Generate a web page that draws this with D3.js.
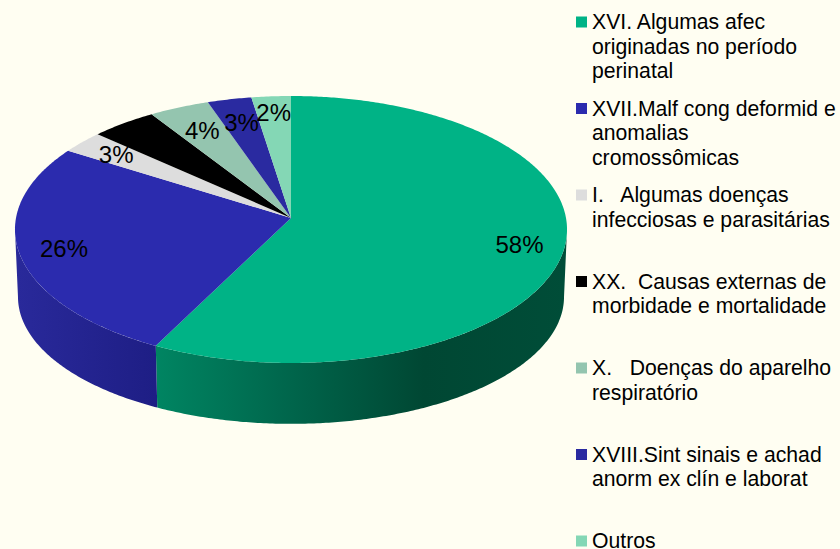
<!DOCTYPE html>
<html>
<head>
<meta charset="utf-8">
<script src="https://cdn.jsdelivr.net/npm/d3@7"></script>
<style>
  html, body { margin: 0; padding: 0; background: #fffef2; }
  svg { display: block; }
  text { font-family: "Liberation Sans", Arial, sans-serif; fill: #000; }
</style>
</head>
<body>
<svg id="chart" width="840" height="549"></svg>
<script>
// values, in percent
var categories = ["XVI", "XVII", "I", "XX", "X", "XVIII", "Outros"];
var values = [57.5, 26.4, 2.75, 4.2, 3.85, 2.8, 2.5];
var sliceLabels = ["58%", "26%", "3%", "", "4%", "3%", "2%"];
var legendLines = [
    ["XVI. Algumas afec", "originadas no período", "perinatal"],
    ["XVII.Malf cong deformid e", "anomalias", "cromossômicas"],
    ["I.   Algumas doenças", "infecciosas e parasitárias"],
    ["XX.  Causas externas de", "morbidade e mortalidade"],
    ["X.   Doenças do aparelho", "respiratório"],
    ["XVIII.Sint sinais e achad", "anorm ex clín e laborat"],
    ["Outros"]
];
var colors = ["#00b386", "#2b2bae", "#dddddd", "#000000", "#94c5af", "#2a2aa0", "#84d7b5"];
// label spot along the slice middle, as part of the radius
var labelRadius = [0.84, 0.84, 0.83, 0, 0.78, 0.79, 0.86];
// side wall shading, dark stops read along x
var sideStops = [
    { color: 0, offset: 0.25, shade: "#008562" },
    { color: 0, offset: 0.5, shade: "#00654b" },
    { color: 0, offset: 0.74, shade: "#004733" },
    { color: 0, offset: 1, shade: "#004d38" },
    { color: 1, offset: 0, shade: "#29299a" },
    { color: 1, offset: 0.25, shade: "#1e1e85" }
];

var cx = 291, k = 0.086;
var upper = { cy: 218, rx: 275, ry: 132.5 };
var lower = { cy: 286, rx: 272, ry: 126 };

// circle angle (clockwise from top) to tilted pie, apex sits above the ellipse middle
var project = function(a, r, f) {
    var u = r * Math.sin(a), v = -r * Math.cos(a);
    var w = 1 - k * v;
    return [cx + f.rx * u / w, f.cy + f.ry * v / w];
};

var rimAngles = function(a0, a1) {
    var n = Math.max(2, Math.ceil((a1 - a0) / 0.01));
    return d3.range(n + 1).map(function(i) { return a0 + (a1 - a0) * i / n; });
};

var svg = d3.select("#chart");
var line = d3.line();

var pie = d3.pie().sort(null).value(function(d) { return d; });
var arcs = pie(values);

var defs = svg.append("defs");
[0, 1].forEach(function(c) {
    var g = defs.append("linearGradient")
        .attr("id", "side" + c)
        .attr("gradientUnits", "userSpaceOnUse")
        .attr("x1", 18).attr("x2", 567).attr("y1", 0).attr("y2", 0);
    sideStops.filter(function(s) { return s.color === c; }).forEach(function(s) {
        g.append("stop").attr("offset", s.offset).attr("stop-color", s.shade);
    });
});

// side wall, runs between the two widest points of the rim
var sideFrom = Math.acos(-k), sideTo = 2 * Math.PI - sideFrom;
arcs.forEach(function(d, i) {
    var a0 = Math.max(d.startAngle, sideFrom), a1 = Math.min(d.endAngle, sideTo);
    if (a1 <= a0) return;
    var angles = rimAngles(a0, a1);
    var top = angles.map(function(a) { return project(a, 1, upper); });
    var bottom = angles.map(function(a) { return project(a, 1, lower); }).reverse();
    svg.append("path")
        .attr("d", line(top.concat(bottom)) + "Z")
        .attr("fill", "url(#side" + i + ")");
});

// top face
svg.selectAll("path.slice")
    .data(arcs)
    .enter().append("path")
    .attr("class", "slice")
    .attr("fill", function(d, i) { return colors[i]; })
    .attr("d", function(d) {
        var rim = rimAngles(d.startAngle, d.endAngle).map(function(a) { return project(a, 1, upper); });
        return line([[cx, upper.cy]].concat(rim)) + "Z";
    });

// percent labels
svg.selectAll("text.pct")
    .data(arcs)
    .enter().append("text")
    .attr("class", "pct")
    .attr("text-anchor", "middle")
    .attr("dominant-baseline", "central")
    .attr("font-size", 24)
    .attr("x", function(d, i) { return project((d.startAngle + d.endAngle) / 2, labelRadius[i], upper)[0]; })
    .attr("y", function(d, i) { return project((d.startAngle + d.endAngle) / 2, labelRadius[i], upper)[1]; })
    .text(function(d, i) { return sliceLabels[i]; });

// legend
var legendY = d3.scalePoint().domain(categories).range([22, 541]);
var lineHeight = 24.3;
var legend = svg.selectAll("g.legend")
    .data(categories)
    .enter().append("g")
    .attr("class", "legend")
    .attr("transform", function(d) { return "translate(0," + legendY(d) + ")"; });

legend.append("rect")
    .attr("x", 576).attr("y", -5.5)
    .attr("width", 11).attr("height", 11)
    .attr("fill", function(d, i) { return colors[i]; });

legend.each(function(d, i) {
    var g = d3.select(this);
    legendLines[i].forEach(function(t, j) {
        g.append("text")
            .attr("x", 592)
            .attr("y", j * lineHeight)
            .attr("dy", "0.35em")
            .attr("font-size", 21.2)
            .style("white-space", "pre")
            .text(t);
    });
});
</script>
</body>
</html>
